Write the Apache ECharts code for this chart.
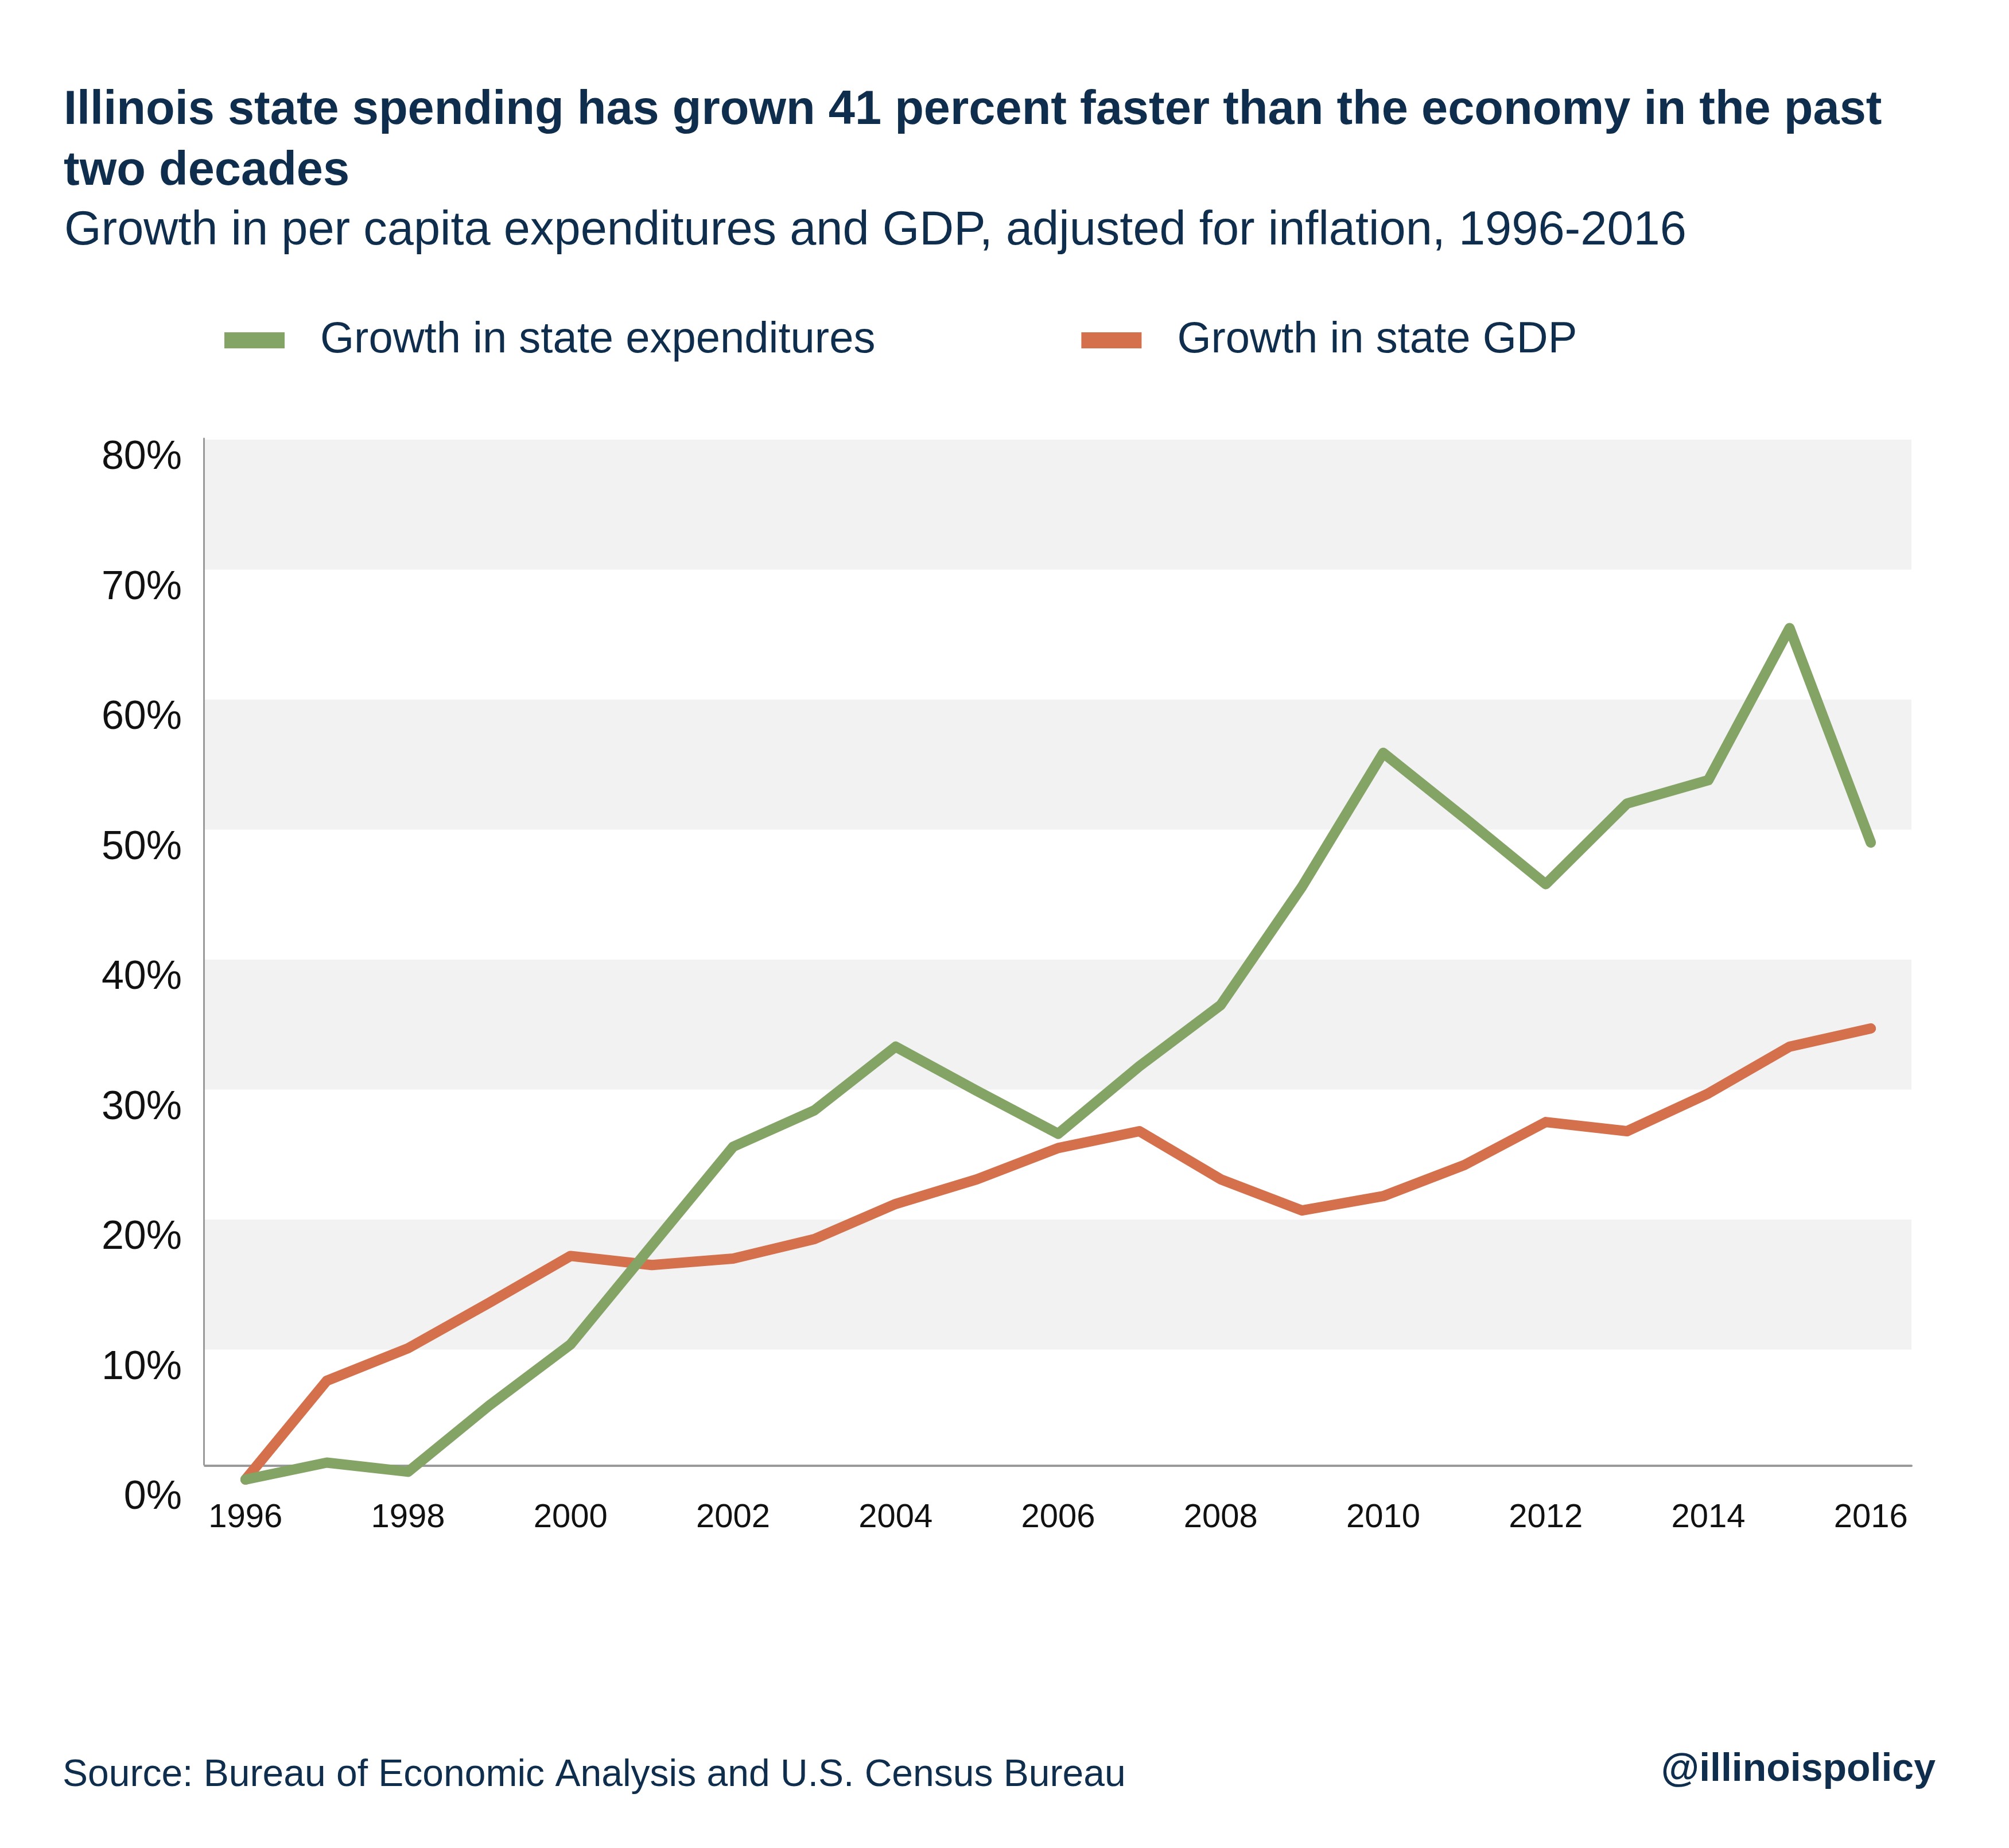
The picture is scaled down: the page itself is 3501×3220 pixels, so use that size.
<!DOCTYPE html>
<html>
<head>
<meta charset="utf-8">
<script src="https://cdn.jsdelivr.net/npm/echarts@6/dist/echarts.min.js"></script>
<style>
html,body{margin:0;padding:0;background:#ffffff;}
#chart{width:3501px;height:3220px;}
</style>
</head>
<body>
<div id="chart"></div>
<script>
// ---- data ----
const years = ['1996','1997','1998','1999','2000','2001','2002','2003','2004','2005','2006',
               '2007','2008','2009','2010','2011','2012','2013','2014','2015','2016'];
const expenditureGrowth = [0, 1.3, 0.6, 5.7, 10.4, 18.0, 25.6, 28.4, 33.3, 29.9, 26.6,
                           31.8, 36.5, 45.6, 55.9, 50.9, 45.8, 52.0, 53.8, 65.5, 49.0];
const gdpGrowth = [0, 7.6, 10.1, 13.6, 17.2, 16.5, 17.0, 18.5, 21.2, 23.1, 25.5,
                   26.8, 23.1, 20.7, 21.8, 24.2, 27.5, 26.8, 29.7, 33.3, 34.7];
const yTickValues = [0, 10, 20, 30, 40, 50, 60, 70, 80];
const seriesNames = ['Growth in state expenditures', 'Growth in state GDP'];

const titleText = 'Illinois state spending has grown 41 percent faster than the economy in the past\ntwo decades';
const subtitleText = 'Growth in per capita expenditures and GDP, adjusted for inflation, 1996-2016';
const sourceText = 'Source: Bureau of Economic Analysis and U.S. Census Bureau';
const handleText = '@illinoispolicy';

// ---- styles ----
const NAVY = '#0f2e4d';
const GREEN = '#84a466';
const RED = '#d5704c';
const FONT = '"Liberation Sans", Arial, Helvetica, sans-serif';

const chart = echarts.init(document.getElementById('chart'), null, {renderer: 'canvas'});

chart.setOption({
  backgroundColor: '#ffffff',
  animation: false,
  textStyle: {fontFamily: FONT},
  title: [
    {
      text: titleText, left: 111, top: 140, padding: 0,
      textStyle: {fontFamily: FONT, fontSize: 83, fontWeight: 'bold', color: NAVY, lineHeight: 106}
    },
    {
      text: subtitleText, left: 112, top: 362, padding: 0,
      textStyle: {fontFamily: FONT, fontSize: 83, fontWeight: 'normal', color: NAVY, lineHeight: 83}
    },
    {
      text: sourceText, left: 109, top: 3061, padding: 0,
      textStyle: {fontFamily: FONT, fontSize: 66, fontWeight: 'normal', color: NAVY, lineHeight: 66}
    },
    {
      text: handleText, right: 128, top: 3050, padding: 0,
      textStyle: {fontFamily: FONT, fontSize: 68, fontWeight: 'bold', color: NAVY, lineHeight: 68}
    }
  ],
  legend: {
    data: seriesNames,
    left: 391, top: 555, padding: 0,
    icon: 'rect', itemWidth: 105, itemHeight: 28, itemGap: 359,
    textStyle: {fontFamily: FONT, fontSize: 76, color: NAVY, lineHeight: 76, padding: [0, 0, 0, 57]}
  },
  grid: [
    {left: 357, right: 170, top: 766, bottom: 642, containLabel: false},
    {left: 355, right: 170, top: 764, bottom: 668, containLabel: false}
  ],
  xAxis: [
    {
      gridIndex: 0, type: 'category', data: years, boundaryGap: true,
      offset: -24,
      axisLine: {show: true, lineStyle: {color: '#9a9a9a', width: 4}},
      axisTick: {show: false},
      axisLabel: {
        interval: 1, margin: 62, fontFamily: FONT, fontSize: 58, color: '#111111',
        verticalAlign: 'top', lineHeight: 58
      },
      splitLine: {show: false}
    },
    {gridIndex: 1, type: 'category', data: years, show: false}
  ],
  yAxis: [
    {
      gridIndex: 0, type: 'value', min: yTickValues[0], max: yTickValues[yTickValues.length - 1], interval: 10,
      axisLine: {show: false},
      axisTick: {show: false},
      axisLabel: {
        margin: 40, fontFamily: FONT, fontSize: 70, color: '#111111',
        verticalAlign: 'top', lineHeight: 64,
        formatter: v => v + '%'
      },
      splitLine: {show: false},
      splitArea: {show: true, areaStyle: {color: ['#ffffff', '#f2f2f2']}}
    },
    {
      gridIndex: 1, type: 'value', min: 0, max: 1,
      axisLine: {show: true, lineStyle: {color: '#9a9a9a', width: 3}},
      axisTick: {show: false}, axisLabel: {show: false},
      splitLine: {show: false}, splitArea: {show: false}
    }
  ],
  series: [
    {
      name: seriesNames[0], type: 'line', data: expenditureGrowth,
      xAxisIndex: 0, yAxisIndex: 0, z: 3, clip: false,
      symbol: 'none', smooth: false,
      itemStyle: {color: GREEN},
      lineStyle: {color: GREEN, width: 18, cap: 'round', join: 'round'}
    },
    {
      name: seriesNames[1], type: 'line', data: gdpGrowth,
      xAxisIndex: 0, yAxisIndex: 0, z: 2, clip: false,
      symbol: 'none', smooth: false,
      itemStyle: {color: RED},
      lineStyle: {color: RED, width: 18, cap: 'round', join: 'round'}
    }
  ]
});
</script>
</body>
</html>
